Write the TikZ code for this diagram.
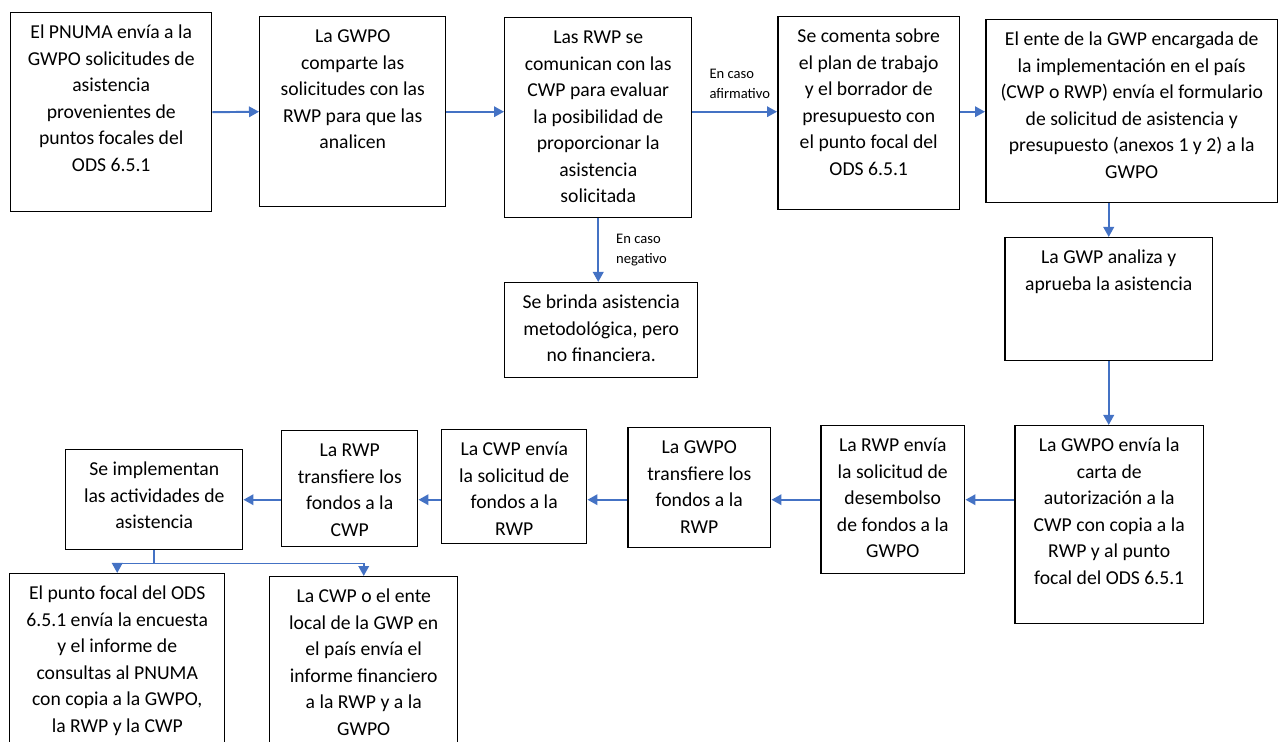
\documentclass[tikz,border=0pt]{standalone}
\usepackage{fontspec}
\setmainfont{Carlito}
\usepackage{xcolor}
\usepackage{tikz}
\usetikzlibrary{arrows.meta}
\usetikzlibrary{calc}

% text of a box: width, height, lines (top aligned)
\newcommand{\boxtext}[3]{\parbox[c][#2][t]{#1}{\centering\rule{0pt}{14.7pt}#3}}

\begin{document}
\begin{tikzpicture}
    [%%%%%%%%%%%%%%%%%%%%%%%%%%%%%%
        x=0.02cm, y=-0.02cm,
        box/.style={rectangle,draw=black,line width=0.85pt,inner sep=0pt,anchor=north west,
            font=\fontsize{11.2}{15.1}\selectfont},
        flow/.style={draw=arrowblue,line width=1.1pt,-{Triangle[length=0.2cm,width=0.21cm]}},
        cond/.style={font=\fontsize{8.3}{11.3}\selectfont,align=left,inner sep=0pt}
    ]%%%%%%%%%%%%%%%%%%%%%%%%%%%%%%
\definecolor{arrowblue}{RGB}{68,114,196}
\path[clip,use as bounding box] (0,0) rectangle (1278,742);

% upper row
\node[box] (pnuma) at (10,12) {\boxtext{4.02cm}{3.98cm}{El PNUMA envía a la\\GWPO solicitudes de\\asistencia\\provenientes de\\puntos focales del\\ODS 6.5.1}};
\node[box] (comparte) at (259,16) {\boxtext{3.72cm}{3.80cm}{La GWPO\\comparte las\\solicitudes con las\\RWP para que las\\analicen}};
\node[box] (evalua) at (504,17) {\boxtext{3.74cm}{4.00cm}{Las RWP se\\comunican con las\\CWP para evaluar\\la posibilidad de\\proporcionar la\\asistencia\\solicitada}};
\node[box] (comenta) at (777,16) {\boxtext{3.64cm}{3.86cm}{Se comenta sobre\\el plan de trabajo\\y el borrador de\\presupuesto con\\el punto focal del\\ODS 6.5.1}};
\node[box] (formulario) at (985,19) {\boxtext{5.84cm}{3.66cm}{El ente de la GWP encargada de\\la implementación en el país\\(CWP o RWP) envía el formulario\\de solicitud de asistencia y\\presupuesto (anexos 1 y 2) a la\\GWPO}};
\node[box] (negativo) at (504,282) {\boxtext{3.86cm}{1.90cm}{Se brinda asistencia\\metodológica, pero\\no financiera.}};
\node[box] (aprueba) at (1004,237) {\boxtext{4.16cm}{2.46cm}{La GWP analiza y\\aprueba la asistencia}};

% lower row
\node[box] (autoriza) at (1014,425) {\boxtext{3.78cm}{3.96cm}{La GWPO envía la\\carta de\\autorización a la\\CWP con copia a la\\RWP y al punto\\focal del ODS 6.5.1}};
\node[box] (desembolso) at (820,425) {\boxtext{2.88cm}{2.96cm}{La RWP envía\\la solicitud de\\desembolso\\de fondos a la\\GWPO}};
\node[box] (fondosrwp) at (627,427) {\boxtext{2.86cm}{2.40cm}{La GWPO\\transfiere los\\fondos a la\\RWP}};
\node[box] (solcwp) at (441,429) {\boxtext{2.90cm}{2.28cm}{La CWP envía\\la solicitud de\\fondos a la\\RWP}};
\node[box] (fondoscwp) at (281,430) {\boxtext{2.72cm}{2.32cm}{La RWP\\transfiere los\\fondos a la\\CWP}};
\node[box] (implementa) at (65,449) {\boxtext{3.54cm}{2.00cm}{Se implementan\\las actividades de\\asistencia}};
\node[box] (encuesta) at (9,573) {\boxtext{4.30cm}{3.74cm}{El punto focal del ODS\\6.5.1 envía la encuesta\\y el informe de\\consultas al PNUMA\\con copia a la GWPO,\\la RWP y la CWP}};
\node[box] (informe) at (269,576) {\boxtext{3.76cm}{3.68cm}{La CWP o el ente\\local de la GWP en\\el país envía el\\informe financiero\\a la RWP y a la\\GWPO}};

% arrows
\draw[flow] (pnuma.east) -- (comparte.west);
\draw[flow] (comparte.east) -- (comparte.east -| evalua.west);
\draw[flow] (evalua.east |- comparte.east) -- node[cond,above=0.24cm,xshift=0.1cm] {En caso\\afirmativo} (comenta.west |- comparte.east);
\draw[flow] (comenta.east |- comparte.east) -- (formulario.west |- comparte.east);
\draw[flow] (evalua.south) -- node[cond,right=0.34cm] {En caso\\negativo} (evalua.south |- negativo.north);
\draw[flow] (aprueba.north |- formulario.south) -- (aprueba.north);
\draw[flow] (aprueba.south) -- (aprueba.south |- autoriza.north);
\draw[flow] (autoriza.west |- desembolso.east) -- (desembolso.east);
\draw[flow] (desembolso.west) -- (desembolso.west -| fondosrwp.east);
\draw[flow] (fondosrwp.west |- desembolso.west) -- (solcwp.east |- desembolso.west);
\draw[flow] (solcwp.west |- desembolso.west) -- (fondoscwp.east |- desembolso.west);
\draw[flow] (fondoscwp.west |- desembolso.west) -- (implementa.east |- desembolso.west);
\draw[flow] (implementa.south) -- ++(0,13) -| (encuesta.north);
\draw[flow] (implementa.south) -- ++(0,13) -| (informe.north);

\end{tikzpicture}
\end{document}
